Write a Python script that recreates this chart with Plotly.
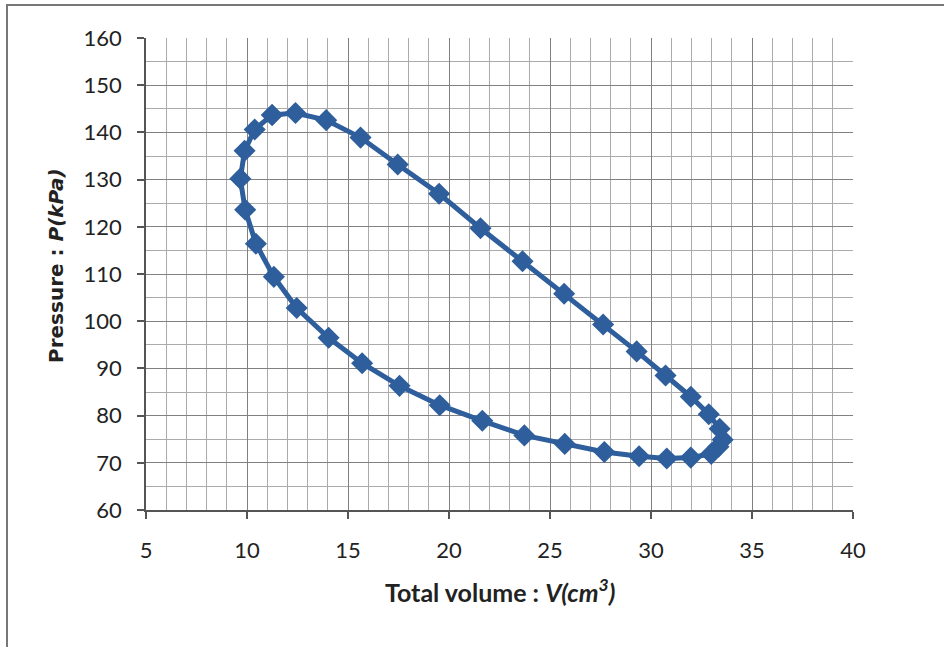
import plotly.graph_objects as go

# Pressure-volume loop (closed loop)
volume_cm3 = [11.24, 12.40, 13.92, 15.62, 17.46, 19.51, 21.56, 23.64, 25.70, 27.63,
              29.29, 30.72, 31.97, 32.86, 33.40, 33.55, 33.34, 32.98, 31.97, 30.78,
              29.41, 27.69, 25.73, 23.73, 21.65, 19.54, 17.55, 15.70, 14.04, 12.46,
              11.33, 10.44, 9.91, 9.67, 9.88, 10.38, 11.24]
pressure_kpa = [143.7, 144.1, 142.6, 138.9, 133.2, 127.0, 119.7, 112.7, 105.8, 99.3,
                93.6, 88.5, 84.0, 80.3, 77.2, 74.9, 73.4, 71.9, 71.1, 70.9,
                71.4, 72.3, 74.0, 75.8, 78.9, 82.2, 86.3, 91.1, 96.5, 102.8,
                109.4, 116.4, 123.6, 130.2, 136.1, 140.6, 143.7]

x_ticks = [5, 10, 15, 20, 25, 30, 35, 40]
y_ticks = [60, 70, 80, 90, 100, 110, 120, 130, 140, 150, 160]

blue = "#2F5E9C"

fig = go.Figure()
fig.add_trace(go.Scatter(
    x=volume_cm3, y=pressure_kpa, mode="lines+markers",
    line=dict(color=blue, width=5),
    marker=dict(symbol="diamond", size=17, color=blue, line=dict(width=0)),
    showlegend=False, hoverinfo="x+y",
))

tickfont = dict(family="Lato, Carlito, sans-serif", size=22, color="#222222")

fig.update_xaxes(
    range=[5, 40], tickvals=x_ticks, ticktext=[str(v) for v in x_ticks],
    showgrid=True, gridcolor="#808080", gridwidth=1.4,
    minor=dict(dtick=1, showgrid=True, gridcolor="#aaaaaa", gridwidth=1.2,
               ticks=""),
    showline=True, linecolor="#555555", linewidth=1.5,
    ticks="outside", ticklen=7, tickcolor="#555555", tickwidth=1.5,
    tickfont=tickfont, ticklabelstandoff=13, zeroline=False,
)
fig.update_yaxes(
    range=[60, 160], tickvals=y_ticks, ticktext=[str(v) for v in y_ticks],
    showgrid=True, gridcolor="#808080", gridwidth=1.4,
    minor=dict(dtick=5, showgrid=True, gridcolor="#aaaaaa", gridwidth=1.2,
               ticks=""),
    showline=True, linecolor="#555555", linewidth=1.5,
    ticks="outside", ticklen=7, tickcolor="#555555", tickwidth=1.5,
    tickfont=tickfont, ticklabelstandoff=11, zeroline=False,
)

L, R, T, B = 146, 853, 38, 510
W, H = 944, 647
pw, ph = R - L, B - T

def px_x(px):
    return (px - L) / pw

def px_y(py):
    return (B - py) / ph

fig.add_annotation(
    x=px_x(500), y=px_y(590), xref="paper", yref="paper",
    text="<b>Total volume : <i>V(cm<sup>3</sup>)</i></b>",
    showarrow=False, font=dict(family="Lato, Carlito, sans-serif", size=25, color="#222222"),
    xanchor="center", yanchor="middle",
)
fig.add_annotation(
    x=px_x(56), y=px_y(266), xref="paper", yref="paper",
    text="<b>Pressure : <i>P(kPa)</i></b>", textangle=-90,
    showarrow=False, font=dict(family="DejaVu Sans, sans-serif", size=20, color="#222222"),
    xanchor="center", yanchor="middle",
)

# outer frame of the chart
fig.add_shape(type="rect", xref="paper", yref="paper",
              x0=px_x(7), x1=px_x(960), y0=px_y(660), y1=px_y(5),
              line=dict(color="#777777", width=2), fillcolor="rgba(0,0,0,0)",
              layer="below")

fig.update_layout(
    width=W, height=H, autosize=False,
    margin=dict(l=L, r=W - R, t=T, b=H - B),
    paper_bgcolor="white", plot_bgcolor="white",
)

fig.write_html("out.html")
